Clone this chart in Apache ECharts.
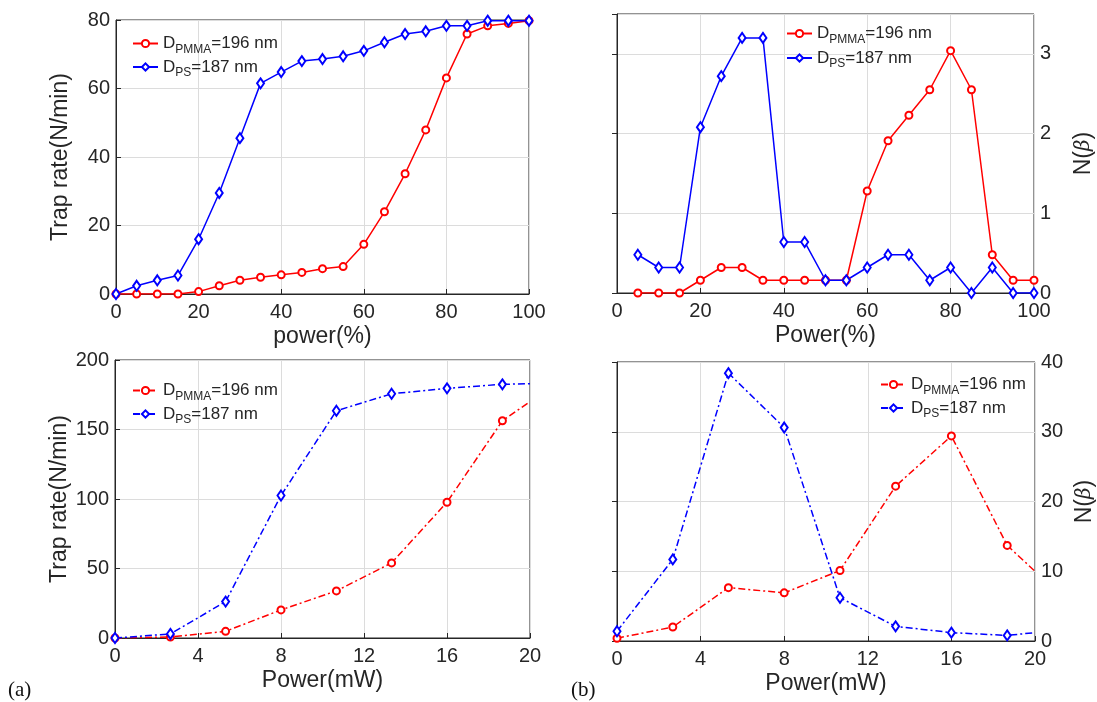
<!DOCTYPE html>
<html>
<head>
<meta charset="utf-8">
<script src="https://cdn.jsdelivr.net/npm/echarts@6/dist/echarts.min.js"></script>
<style>
  html, body { margin: 0; padding: 0; background: #fff; }
  #chart { width: 1097px; height: 702px; }
</style>
</head>
<body>
<div id="chart"></div>
<script>
// panel (a) top: trap rate vs power(%)
var powerPct = [0, 5, 10, 15, 20, 25, 30, 35, 40, 45, 50, 55, 60, 65, 70, 75, 80, 85, 90, 95, 100];
var rateTopPMMA = [0, 0, 0, 0, 0.7, 2.4, 4.0, 4.9, 5.6, 6.3, 7.4, 8.0, 14.5, 24.0, 35.1, 47.9, 63.1, 75.9, 78.3, 79.0, 79.8];
var rateTopPS = [0, 2.4, 4.0, 5.4, 16.0, 29.5, 45.5, 61.5, 64.8, 68.0, 68.6, 69.4, 71.0, 73.5, 75.9, 76.7, 78.3, 78.3, 79.8, 79.8, 79.8];

// panel (b) top: N(beta) vs power(%)
var powerPctB = [5, 10, 15, 20, 25, 30, 35, 40, 45, 50, 55, 60, 65, 70, 75, 80, 85, 90, 95, 100];
var nTopPMMA = [0, 0, 0, 0.16, 0.32, 0.32, 0.16, 0.16, 0.16, 0.16, 0.16, 1.28, 1.91, 2.23, 2.55, 3.04, 2.55, 0.48, 0.16, 0.16];
var nTopPS = [0.48, 0.32, 0.32, 2.08, 2.72, 3.2, 3.2, 0.64, 0.64, 0.16, 0.16, 0.32, 0.48, 0.48, 0.16, 0.32, 0, 0.32, 0, 0];

// bottom row: vs power(mW)
var powerMW = [0, 2.67, 5.33, 8, 10.67, 13.33, 16, 18.67, 20];
var rateBotPMMA = [0, 0.7, 4.8, 20.2, 33.9, 54, 97.7, 156.3, 170];
var rateBotPS = [0, 2.9, 26.2, 102.5, 163.5, 175.7, 179.6, 182.5, 183];
var nBotPMMA = [0.4, 2.0, 7.65, 6.9, 10.1, 22.2, 29.4, 13.7, 10.0];
var nBotPS = [1.4, 11.7, 38.4, 30.6, 6.2, 2.1, 1.2, 0.8, 1.2];

var pctTicks = { min: 0, max: 100, interval: 20 };
var mwTicks = { min: 0, max: 20, interval: 4 };

var FONT = 'Liberation Sans, Arial, sans-serif';
var INK = '#262626';
var RED = '#ff0000', BLUE = '#0000ff';
var DASHDOT = [7, 3, 2, 3];

function pairs(xs, ys, hideLast) {
    return xs.map(function (x, i) {
        var item = { value: [x, ys[i]] };
        if (hideLast && i === xs.length - 1) item.symbol = 'none';
        return item;
    });
}

function mkSeries(name, idx, xs, ys, color, symbol, dashed) {
    return {
        name: name,
        type: 'line',
        xAxisIndex: idx,
        yAxisIndex: idx,
        data: pairs(xs, ys, dashed),
        symbol: symbol,
        symbolSize: symbol === 'emptyCircle' ? 7 : [7, 10],
        showAllSymbol: true,
        animation: false,
        lineStyle: { color: color, width: 1.5, type: dashed ? DASHDOT : 'solid' },
        itemStyle: { color: color, borderColor: color, borderWidth: 1.2 }
    };
}

function xAx(idx, ticks, name) {
    return {
        gridIndex: idx, type: 'value',
        min: ticks.min, max: ticks.max, interval: ticks.interval,
        name: name, nameLocation: 'middle', nameGap: 31,
        nameTextStyle: { fontFamily: FONT, fontSize: 23, color: INK },
        axisLine: { show: true, lineStyle: { color: INK, width: 1 } },
        axisTick: { show: true, inside: true, length: 5, lineStyle: { color: INK } },
        axisLabel: { fontFamily: FONT, fontSize: 20, color: INK, margin: 8 },
        splitLine: { show: true, lineStyle: { color: '#dcdcdc', width: 1 } }
    };
}

var nameBeta = {
    n: { fontFamily: FONT, fontSize: 23, color: INK },
    b: { fontFamily: 'DejaVu Serif', fontStyle: 'italic', fontSize: 20, color: INK }
};

function yAx(idx, min, max, interval, name, right) {
    return {
        gridIndex: idx, type: 'value',
        min: min, max: max, interval: interval,
        position: right ? 'right' : 'left',
        name: name, nameLocation: 'middle', nameRotate: 90,
        nameGap: right ? 38 : 44,
        nameTextStyle: { fontFamily: FONT, fontSize: 23, color: INK, rich: nameBeta },
        axisLine: { show: true, lineStyle: { color: INK, width: 1 } },
        axisTick: { show: true, inside: true, length: 5, lineStyle: { color: INK } },
        axisLabel: {
            fontFamily: FONT, fontSize: 20, color: INK, margin: 6,
            formatter: function (v) { return v % interval === 0 ? String(v) : ''; }
        },
        splitLine: { show: true, lineStyle: { color: '#dcdcdc', width: 1 } }
    };
}

function legendAt(left, top, names, gap) {
    return {
        left: left, top: top, orient: 'vertical',
        data: names, itemWidth: 25, itemHeight: 9, itemGap: gap,
        selectedMode: false,
        formatter: function (name) {
            return name.indexOf('pmma') === 0
                ? '{d|D}{s|PMMA}{d|=196 nm}'
                : '{d|D}{s|PS}{d|=187 nm}';
        },
        textStyle: {
            color: INK,
            rich: {
                d: { fontFamily: FONT, fontSize: 17, lineHeight: 24, color: INK },
                s: { fontFamily: FONT, fontSize: 12, lineHeight: 8, verticalAlign: 'bottom', color: INK }
            }
        }
    };
}

var gridStyle = { show: true, borderColor: INK, borderWidth: 1, backgroundColor: 'transparent', containLabel: false };

var option = {
    backgroundColor: '#fff',
    animation: false,
    grid: [
        Object.assign({ left: 116, top: 20, width: 413, height: 274 }, gridStyle),
        Object.assign({ left: 617, top: 14, width: 417, height: 279 }, gridStyle),
        Object.assign({ left: 115, top: 360, width: 415, height: 278 }, gridStyle),
        Object.assign({ left: 617, top: 362, width: 418, height: 279 }, gridStyle)
    ],
    xAxis: [
        xAx(0, pctTicks, 'power(%)'),
        xAx(1, pctTicks, 'Power(%)'),
        xAx(2, mwTicks, 'Power(mW)'),
        xAx(3, mwTicks, 'Power(mW)')
    ],
    yAxis: [
        yAx(0, 0, 80, 20, 'Trap rate(N/min)', false),
        yAx(1, 0, 3.5, 1, '{n|N(}{b|β}{n|)}', true),
        yAx(2, 0, 200, 50, 'Trap rate(N/min)', false),
        yAx(3, 0, 40, 10, '{n|N(}{b|β}{n|)}', true)
    ],
    legend: [
        legendAt(127, 30, ['pmma1', 'ps1'], 3),
        legendAt(781, 20, ['pmma2', 'ps2'], 4),
        legendAt(127, 377, ['pmma3', 'ps3'], 3),
        legendAt(875, 371, ['pmma4', 'ps4'], 3)
    ],
    graphic: [
        { type: 'text', left: 8, top: 680, style: { text: '(a)', font: '21px "Liberation Serif", serif', fill: '#111' } },
        { type: 'text', left: 571, top: 680, style: { text: '(b)', font: '21px "Liberation Serif", serif', fill: '#111' } }
    ],
    series: [
        mkSeries('pmma1', 0, powerPct, rateTopPMMA, RED, 'emptyCircle', false),
        mkSeries('ps1', 0, powerPct, rateTopPS, BLUE, 'emptyDiamond', false),
        mkSeries('pmma2', 1, powerPctB, nTopPMMA, RED, 'emptyCircle', false),
        mkSeries('ps2', 1, powerPctB, nTopPS, BLUE, 'emptyDiamond', false),
        mkSeries('pmma3', 2, powerMW, rateBotPMMA, RED, 'emptyCircle', true),
        mkSeries('ps3', 2, powerMW, rateBotPS, BLUE, 'emptyDiamond', true),
        mkSeries('pmma4', 3, powerMW, nBotPMMA, RED, 'emptyCircle', true),
        mkSeries('ps4', 3, powerMW, nBotPS, BLUE, 'emptyDiamond', true)
    ]
};

var myChart = echarts.init(document.getElementById('chart'));
myChart.setOption(option);
</script>
</body>
</html>
